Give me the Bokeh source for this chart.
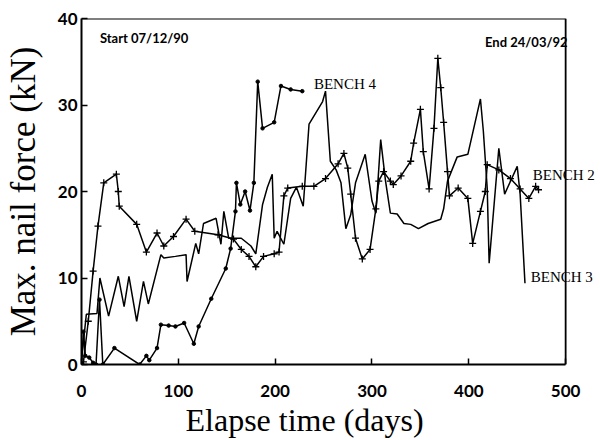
from bokeh.plotting import figure
from bokeh.models import Label, Title
from bokeh.embed import file_html
from bokeh.resources import INLINE

# ---- data ----
x_ticks = [0, 100, 200, 300, 400, 500]
y_ticks = [0, 10, 20, 30, 40]
x_max = 500
y_max = 40

bench2_days = [0, 2, 7, 12, 17, 23, 36, 38, 39, 57, 67, 78, 85, 95, 108, 117, 141, 157, 165, 173,
               180, 188, 199, 204, 209, 213, 228, 240, 252, 265, 271, 275, 278, 283, 290, 298,
               304, 307, 312, 319, 322, 330, 340, 343, 350, 353, 359, 364, 368, 371, 374, 378,
               380, 389, 399, 404, 412, 417, 419, 431, 443, 453, 462, 469, 472]
bench2_force = [0, 0.3, 5, 10.8, 16, 21, 22, 20, 18.3, 16.2, 13, 15.2, 13.7, 14.8, 16.8, 15.4, 15,
                14.5, 13.3, 12.5, 11.3, 12.5, 12.8, 13, 19.5, 20.4, 20.6, 20.6, 21.5, 23.2, 24.4,
                22.7, 19.7, 14.6, 12.2, 13.3, 18, 21.2, 22.3, 21.2, 20.8, 21.8, 23.5, 25.6, 29.5,
                24.6, 20.3, 27.3, 35.4, 32, 28, 22.3, 19.5, 20.4, 19.2, 14, 17.7, 20, 23.1, 22.5,
                21.5, 20.3, 19.2, 20.6, 20.2]

bench3_days = [0, 5, 16, 19, 28, 38, 44, 49, 57, 64, 69, 82, 85, 97, 108, 109, 118, 121, 126, 139,
               144, 147, 152, 165, 175, 180, 187, 192, 197, 199, 202, 209, 216, 222, 229, 235,
               249, 252, 257, 263, 268, 273, 278, 283, 293, 300, 304, 309, 314, 319, 326, 333,
               340, 348, 358, 371, 374, 378, 388, 399, 412, 415, 419, 421, 431, 437, 450, 453, 458]
bench3_force = [0.5, 5.8, 5.9, 10, 5.6, 10.2, 6.7, 10.2, 5, 9.6, 7, 12.7, 12.3, 12.5, 12.7, 9.6, 14,
                12.8, 16.3, 16.9, 13.9, 17.7, 14.6, 14.6, 13.7, 12.8, 18.5, 20.5, 22, 14.6, 15.4,
                13.9, 19.2, 20.5, 18.3, 27.8, 30.4, 31.6, 23.5, 22.5, 21, 15.7, 17.3, 21, 24.3,
                18.9, 17.5, 26, 21.2, 17.5, 17.4, 16.3, 16.2, 15.7, 16.3, 16.8, 18, 21.2, 24, 24.3,
                30.7, 27, 20.4, 11.7, 25, 19.7, 22.9, 19.7, 9.4]

bench4_days = [0, 2, 4, 8, 12, 15, 18.6, 22, 34, 60, 67, 70, 78, 82, 90, 97, 106, 116, 121, 134,
               149, 154, 159, 160, 164, 169, 174, 178, 182, 187, 199, 206, 216, 228]
bench4_force = [0, 3.8, 1, 0.8, 0.2, 0, 7.5, 0, 1.9, 0, 1, 0.5, 1.9, 4.6, 4.5, 4.4, 4.8, 2.4, 4.4,
                7.6, 11.1, 13.4, 17.7, 21, 18.5, 20, 17.8, 21, 32.7, 27.3, 28, 32.2, 31.8, 31.6]

labels = ["BENCH 2", "BENCH 3", "BENCH 4"]
start_text = "Start 07/12/90"
end_text = "End 24/03/92"
x_title = "Elapse time (days)"
y_title = "Max. nail force (kN)"

SERIF = "Liberation Serif"
SANS = "Lato"

p = figure(width=600, height=440, x_range=(0, 536), y_range=(0, y_max),
           output_backend="svg", toolbar_location=None,
           min_border_left=81, min_border_right=0, min_border_top=18, min_border_bottom=76)

p.xgrid.visible = False
p.ygrid.visible = False
p.background_fill_color = "white"
p.border_fill_color = "white"
p.outline_line_color = None

p.xaxis.ticker = x_ticks
p.yaxis.ticker = y_ticks
p.xaxis.bounds = (0, x_max)
for ax in (p.xaxis, p.yaxis):
    ax.major_tick_in = 6
    ax.major_tick_out = 0
    ax.minor_tick_line_color = None
    ax.axis_line_width = 2
    ax.axis_line_color = "black"
    ax.major_tick_line_color = "black"
    ax.major_tick_line_width = 1.5
    ax.major_label_text_font = SANS
    ax.major_label_text_font_size = "17px"
    ax.major_label_text_font_style = "bold"
    ax.major_label_text_color = "black"
    ax.axis_label_text_font = SERIF
    ax.axis_label_text_font_style = "normal"
    ax.axis_label_text_color = "black"

p.xaxis.major_label_standoff = 20
p.yaxis.axis_label = y_title
p.yaxis.axis_label_text_font_size = "35px"
p.yaxis.major_label_standoff = 4
p.yaxis.axis_label_standoff = 12

p.add_layout(Title(text=x_title, align="left", offset=104, standoff=0,
                   text_font=SERIF, text_font_size="32px", text_font_style="normal",
                   text_color="black"), "below")

# plot box: top and right borders
p.segment(x0=[0, x_max], y0=[y_max, 0], x1=[x_max, x_max], y1=[y_max, y_max],
          line_color="black", line_width=1.8)

# series
p.line(bench4_days, bench4_force, line_color="black", line_width=1.5)
p.scatter(bench4_days, bench4_force, marker="circle", size=3.5, color="black")

p.line(bench3_days, bench3_force, line_color="black", line_width=1.5)

p.line(bench2_days, bench2_force, line_color="black", line_width=1.5)
p.scatter(bench2_days, bench2_force, marker="cross", size=7, line_color="black", line_width=1.3)

# annotations
lab_kw = dict(text_font=SERIF, text_font_size="15px", text_color="black", text_baseline="middle")
p.add_layout(Label(x=240, y=32.4, text=labels[2], **lab_kw))
p.add_layout(Label(x=466, y=21.9, text=labels[0], **lab_kw))
p.add_layout(Label(x=464, y=10.1, text=labels[1], **lab_kw))

small_kw = dict(text_font=SANS, text_font_size="13px", text_font_style="bold", text_color="black",
                text_baseline="middle")
p.add_layout(Label(x=19, y=37.7, text=start_text, **small_kw))
p.add_layout(Label(x=502, y=37.3, text=end_text, text_align="right", **small_kw))

open("out.html", "w").write(file_html(p, INLINE))
